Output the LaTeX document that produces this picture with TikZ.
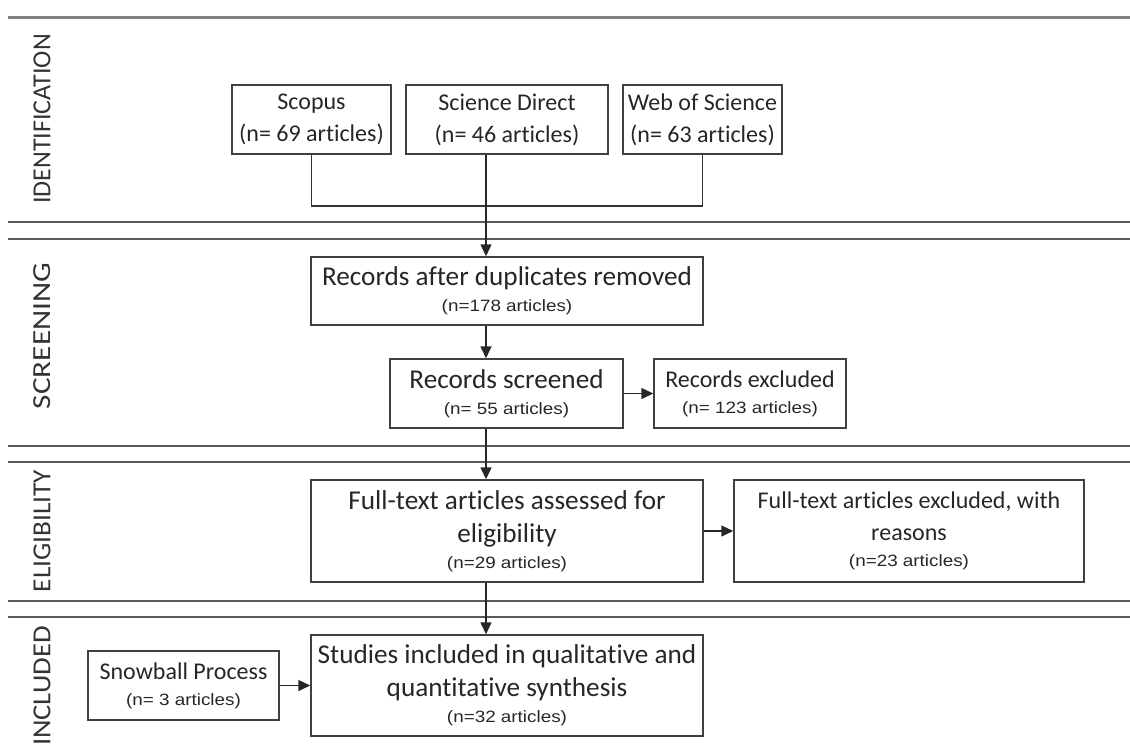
\documentclass[tikz,border=0pt]{standalone}
\usepackage{fontspec}
\setmainfont{Carlito}[Ligatures=NoCommon]
\newfontfamily\cntfont[FakeStretch=1.15]{Liberation Sans}
\usetikzlibrary{arrows.meta}
\newcommand{\cnt}[1]{{\cntfont\fontsize{8.2}{10}\selectfont #1}}

\begin{document}
\begin{tikzpicture}[x=0.5pt, y=-0.5pt,
    box/.style={draw=black!75, line width=0.75pt, align=center, inner sep=0pt,
        font=\fontsize{12}{16}\selectfont, text=black!85},
    big/.style={font=\fontsize{13.6}{16.5}\selectfont},
    link/.style={draw=black!85, line width=0.75pt, -{Triangle[length=6pt,width=5.5pt]}},
    phase/.style={rotate=90, font=\fontsize{13}{14}\selectfont, text=black!80},
    band/.style={draw=black!65, line width=0.9pt}]
    \useasboundingbox (0,0) rectangle (1130,746);

    % Phase separators
    \draw[black!50, line width=1.5pt] (8,17) -- (1130,17);
    \foreach \y in {222,239,446,462,601,617} \draw[band] (8,\y) -- (1130,\y);

    % Phase labels
    \node[phase] (lid) at (42,119) {IDENTIFICATION};
    \node[phase, xscale=1.2] (lscr) at (42,336) {SCREENING};
    \node[phase, xscale=1.05] (lel) at (42,531) {ELIGIBILITY};
    \node[phase, xscale=1.1] (linc) at (42,686) {INCLUDED};

    % Databases
    \node[box, minimum width=79.5pt, minimum height=34.5pt] (scopus) at (311.5,119.5) {Scopus\\(n= 69 articles)};
    \node[box, minimum width=101pt, minimum height=34.5pt] (direct) at (507,119.5) {Science Direct\\(n= 46 articles)};
    \node[box, minimum width=79.5pt, minimum height=34.5pt] (wos) at (702.5,119.5) {Web of Science\\(n= 63 articles)};

    % Flow boxes
    \node[box, big, minimum width=196pt, minimum height=34pt] (records) at (507,291)
        {Records after duplicates removed\\[-3.5pt]\cnt{(n=178 articles)}};
    \node[box, big, minimum width=116.5pt, minimum height=34.5pt] (screened) at (506.5,393.5)
        {Records screened\\[-3.5pt]\cnt{(n= 55 articles)}};
    \node[box, minimum width=96pt, minimum height=34.5pt] (excluded) at (750,393.5)
        {Records excluded\\[-3pt]\cnt{(n= 123 articles)}};
    \node[box, big, minimum width=196pt, minimum height=51pt] (fulltext) at (507,531)
        {Full-text articles assessed for\\eligibility\\[-3.5pt]\cnt{(n=29 articles)}};
    \node[box, minimum width=175pt, minimum height=51pt] (ftexcl) at (909,531)
        {Full-text articles excluded, with\\reasons\\[-3pt]\cnt{(n=23 articles)}};
    \node[box, big, minimum width=196pt, minimum height=50.5pt] (studies) at (507,685.5)
        {Studies included in qualitative and\\quantitative synthesis\\[-3.5pt]\cnt{(n=32 articles)}};
    \node[box, minimum width=95.5pt, minimum height=34.5pt] (snowball) at (183.5,685.5)
        {Snowball Process\\[-3pt]\cnt{(n= 3 articles)}};

    % Connectors
    \coordinate (join) at (486,206);
    \draw[black!80, line width=0.75pt] (scopus.south) |- (join) -| (wos.south);
    \draw[link] (direct.south -| join) -- (records.north -| join);
    \draw[link] (records.south -| join) -- (screened.north -| join);
    \draw[link] (screened.east) -- (excluded.west);
    \draw[link] (screened.south -| join) -- (fulltext.north -| join);
    \draw[link] (fulltext.east) -- (ftexcl.west);
    \draw[link] (fulltext.south -| join) -- (studies.north -| join);
    \draw[link] (snowball.east) -- (studies.west);
\end{tikzpicture}
\end{document}
